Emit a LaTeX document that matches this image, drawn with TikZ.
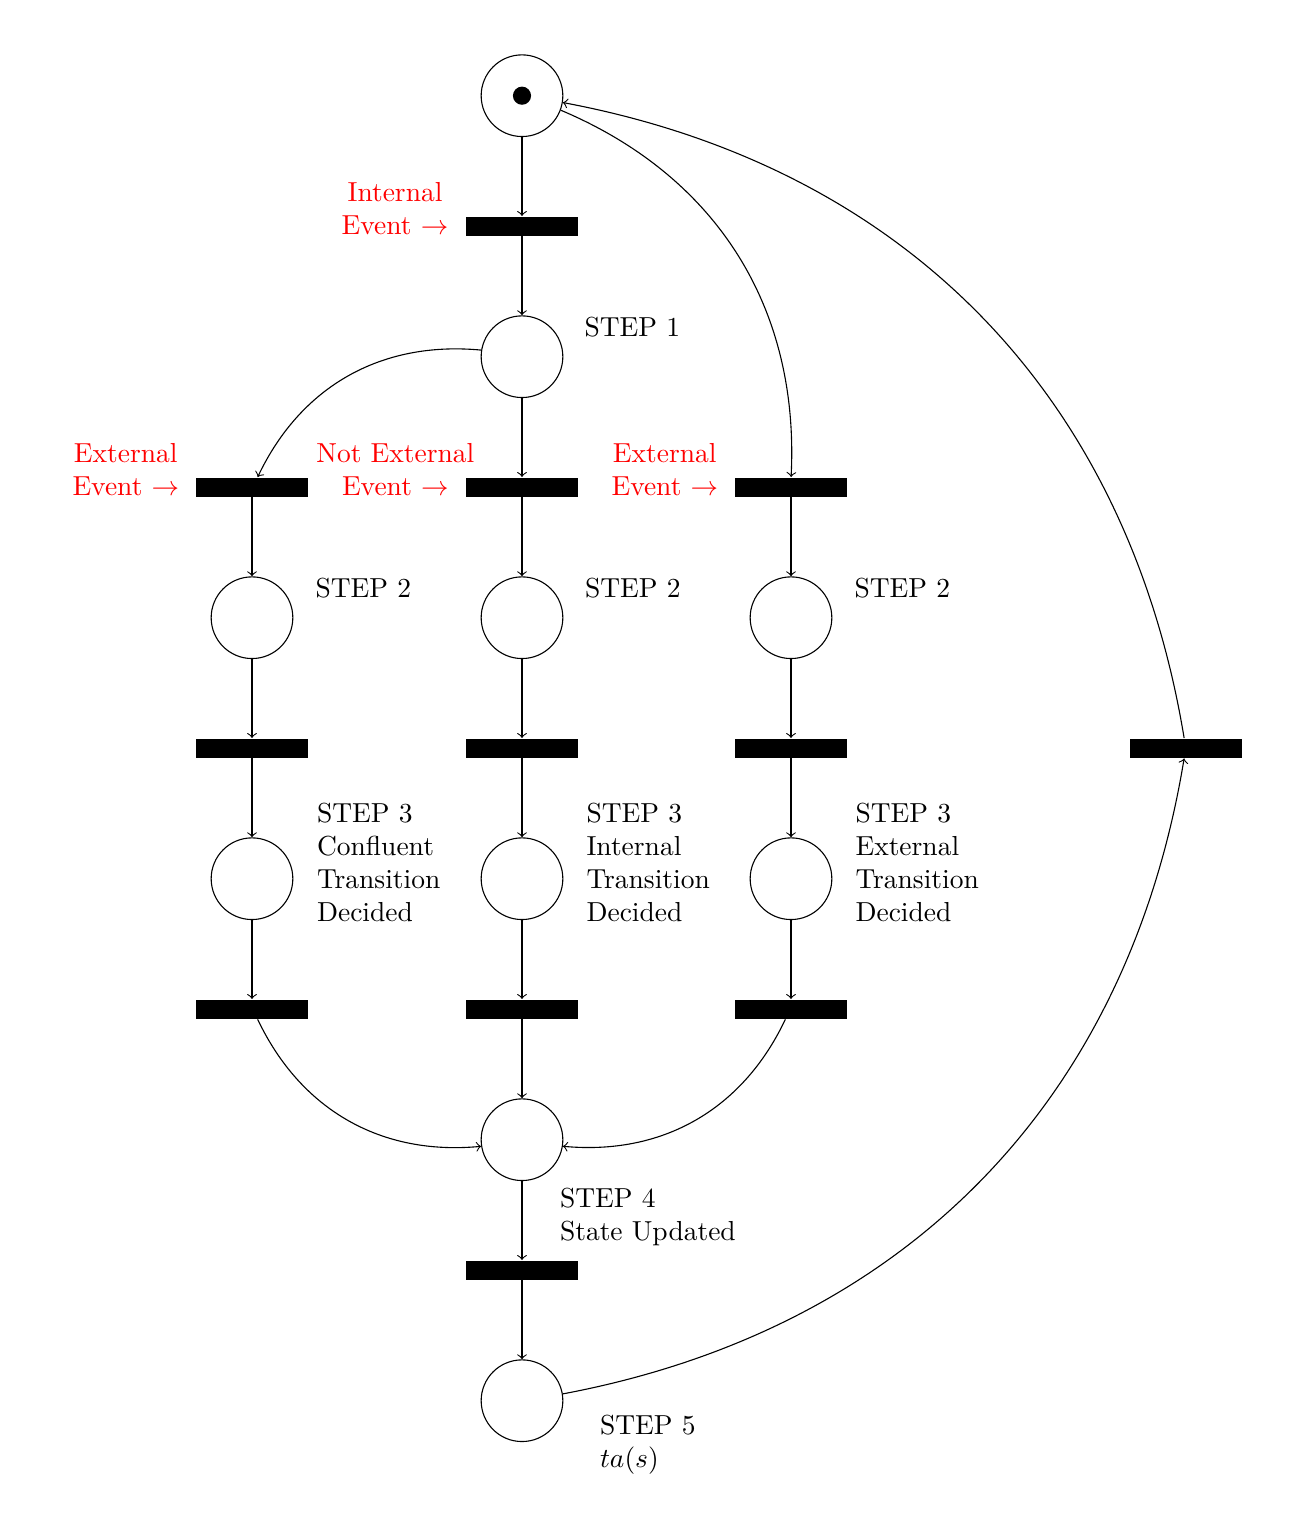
\documentclass[tikz,border=0pt]{standalone}
\usetikzlibrary{arrows}
\begin{document}
\begin{tikzpicture}[x=0.36364pt,y=-0.36364pt,
  place/.style={circle,draw,line width=0.4pt,minimum size=29.7pt,inner sep=0pt},
  trans/.style={rectangle,fill=black,minimum width=40.4pt,minimum height=7pt,inner sep=0pt},
  token/.style={circle,fill=black,minimum size=6.6pt,inner sep=0pt},
  evt/.style={text=red,inner sep=0pt,anchor=base},
  stepl/.style={inner sep=0pt,anchor=base west},
  arc/.style={->,line width=0.4pt}]
\useasboundingbox (0,0) rectangle (1296,1528);
% places
\node[place] (p0) at (522,95.7) {};
\node[token] (tok) at (522,95.7) {};
\node[place] (p1) at (522,356.7) {};
\node[place] (pL2) at (252,617.7) {};
\node[place] (pC2) at (522,617.7) {};
\node[place] (pR2) at (791,617.7) {};
\node[place] (pL3) at (252,878.7) {};
\node[place] (pC3) at (522,878.7) {};
\node[place] (pR3) at (791,878.7) {};
\node[place] (p4) at (522,1139.7) {};
\node[place] (p5) at (522,1400.7) {};
% transitions
\node[trans] (t0) at (522,226.2) {};
\node[trans] (tL1) at (252,487.2) {};
\node[trans] (tC1) at (522,487.2) {};
\node[trans] (tR1) at (791,487.2) {};
\node[trans] (tL2) at (252,748.2) {};
\node[trans] (tC2) at (522,748.2) {};
\node[trans] (tR2) at (791,748.2) {};
\node[trans] (tL3) at (252,1009.2) {};
\node[trans] (tC3) at (522,1009.2) {};
\node[trans] (tR3) at (791,1009.2) {};
\node[trans] (t4) at (522,1270.2) {};
\node[trans] (tX) at (1186,748.2) {};
% arcs
\draw[arc] (p0) -- (t0);
\draw[arc] (t0) -- (p1);
\draw[arc] (p1) to[bend right=35] (tL1);
\draw[arc] (p1) -- (tC1);
\draw[arc] (p0) to[bend left=35] (tR1);
\draw[arc] (tL1) -- (pL2);
\draw[arc] (tC1) -- (pC2);
\draw[arc] (tR1) -- (pR2);
\draw[arc] (pL2) -- (tL2);
\draw[arc] (pC2) -- (tC2);
\draw[arc] (pR2) -- (tR2);
\draw[arc] (tL2) -- (pL3);
\draw[arc] (tC2) -- (pC3);
\draw[arc] (tR2) -- (pR3);
\draw[arc] (pL3) -- (tL3);
\draw[arc] (pC3) -- (tC3);
\draw[arc] (pR3) -- (tR3);
\draw[arc] (tL3) to[bend right=35] (p4);
\draw[arc] (tC3) -- (p4);
\draw[arc] (tR3) to[bend left=35] (p4);
\draw[arc] (p4) -- (t4);
\draw[arc] (t4) -- (p5);
\draw[arc] (p5) to[bend right=35] (tX);
\draw[arc] (tX) to[bend right=35] (p0);
% red labels
\node[evt] (e0) at (395,201) {\begin{tabular}[t]{@{}c@{}}Internal\\Event $\rightarrow$\end{tabular}};
\node[evt] (eL) at (125.8,462) {\begin{tabular}[t]{@{}c@{}}External\\Event $\rightarrow$\end{tabular}};
\node[evt] (eC) at (395.3,462) {\begin{tabular}[t]{@{}c@{}}Not External\\Event $\rightarrow$\end{tabular}};
\node[evt] (eR) at (664.8,462) {\begin{tabular}[t]{@{}c@{}}External\\Event $\rightarrow$\end{tabular}};
% step labels
\node[stepl] (s1) at (584,336) {STEP 1};
\node[stepl] (s2L) at (315,597.3) {STEP 2};
\node[stepl] (s2C) at (584.5,597.3) {STEP 2};
\node[stepl] (s2R) at (854,597.3) {STEP 2};
\node[stepl] (s3L) at (316.5,822.3) {\begin{tabular}[t]{@{}l@{}}STEP 3\\Confluent\\Transition\\Decided\end{tabular}};
\node[stepl] (s3C) at (586,822.3) {\begin{tabular}[t]{@{}l@{}}STEP 3\\Internal\\Transition\\Decided\end{tabular}};
\node[stepl] (s3R) at (855,822.3) {\begin{tabular}[t]{@{}l@{}}STEP 3\\External\\Transition\\Decided\end{tabular}};
\node[stepl] (s4) at (559.5,1207.3) {\begin{tabular}[t]{@{}l@{}}STEP 4\\State Updated\end{tabular}};
\node[stepl] (s5) at (599.5,1434) {\begin{tabular}[t]{@{}l@{}}STEP 5\\$ta(s)$\end{tabular}};
\end{tikzpicture}
\end{document}
